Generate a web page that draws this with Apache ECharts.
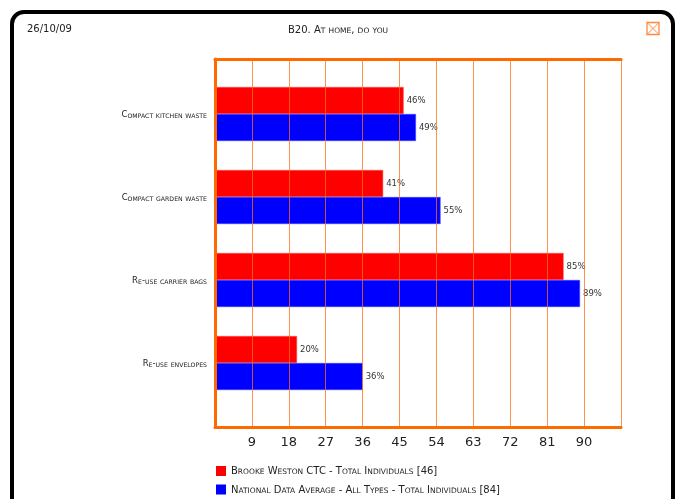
<!DOCTYPE html>
<html>
<head>
<meta charset="utf-8">
<script src="https://cdn.jsdelivr.net/npm/echarts@6/dist/echarts.min.js"></script>
<style>
html,body{margin:0;padding:0;background:#fff;}
#chart{width:676px;height:499px;}
</style>
</head>
<body>
<div id="chart"></div>
<script>
var categories = ['Compact kitchen waste', 'Compact garden waste', 'Re-use carrier bags', 'Re-use envelopes'];
var seriesNames = ['Brooke Weston CTC - Total Individuals [46]', 'National Data Average - All Types - Total Individuals [84]'];
var brookeValues = [46, 41, 85, 20];
var nationalValues = [49, 55, 89, 36];
var xTicks = [9, 18, 27, 36, 45, 54, 63, 72, 81, 90];
var titleText = 'B20. At home, do you';
var dateText = '26/10/09';

function sc(str, B, S) {
  var out = '', cur = null, buf = '';
  for (var i = 0; i < str.length; i++) {
    var ch = str[i];
    var isLower = ch !== ch.toUpperCase();
    var key = isLower ? S : B;
    if (key !== cur) {
      if (buf) out += '{' + cur + '|' + buf + '}';
      buf = ''; cur = key;
    }
    buf += isLower ? ch.toUpperCase() : ch;
  }
  if (buf) out += '{' + cur + '|' + buf + '}';
  return out;
}

var FONT = 'DejaVu Sans';
var TXT = '#222';
var ORANGE = '#ff6a00';

var chart = echarts.init(document.getElementById('chart'));
var option = {
  animation: false,
  backgroundColor: '#fff',
  title: {
    text: sc(titleText, 'b', 's'),
    left: 'center',
    top: 19,
    textStyle: {
      fontWeight: 'normal',
      rich: {
        b: {fontFamily: FONT, fontWeight: 'normal', fontSize: 10, color: TXT, verticalAlign: 'bottom', lineHeight: 11},
        s: {fontFamily: FONT, fontWeight: 'normal', fontSize: 7.5, color: TXT, verticalAlign: 'bottom', lineHeight: 11}
      }
    }
  },
  legend: {
    orient: 'vertical',
    left: 216,
    top: 466,
    padding: 0,
    itemWidth: 10,
    itemHeight: 10,
    itemGap: 8,
    icon: 'rect',
    itemStyle: {borderWidth: 0},
    data: seriesNames,
    formatter: function (n) { return sc(n, 'b', 's'); },
    textStyle: {
      rich: {
        b: {fontFamily: FONT, fontSize: 10, color: TXT, verticalAlign: 'bottom', lineHeight: 11},
        s: {fontFamily: FONT, fontSize: 7.5, color: TXT, verticalAlign: 'bottom', lineHeight: 11}
      }
    }
  },
  grid: [
    {left: 215, right: 55, top: 59, bottom: 72},
    {left: 215, right: 55, top: 72.5, bottom: 94.5}
  ],
  xAxis: [
    {
      type: 'value', gridIndex: 0, min: 0, max: 99, interval: 9, position: 'bottom', z: 5,
      axisLine: {show: true, onZero: false, lineStyle: {color: ORANGE, width: 3}},
      axisTick: {show: false},
      splitLine: {show: true, lineStyle: {color: 'rgba(255,110,20,0.75)', width: 1}},
      axisLabel: {
        margin: 9, fontFamily: FONT, fontSize: 13, color: TXT,
        formatter: function (v) { return xTicks.indexOf(v) >= 0 ? String(v) : ''; }
      }
    },
    {
      type: 'value', gridIndex: 0, min: 0, max: 99, interval: 9, position: 'top', z: 5,
      axisLine: {show: true, onZero: false, lineStyle: {color: ORANGE, width: 3}},
      axisTick: {show: false}, axisLabel: {show: false}, splitLine: {show: false}
    },
    {
      type: 'value', gridIndex: 1, min: 0, max: 99, show: false
    }
  ],
  yAxis: [
    {
      type: 'value', gridIndex: 0, min: 0, max: 1, z: 5,
      axisLine: {show: true, onZero: false, lineStyle: {color: ORANGE, width: 3}},
      axisTick: {show: false}, axisLabel: {show: false}, splitLine: {show: false}
    },
    {
      type: 'category', gridIndex: 1, data: categories, inverse: true,
      axisLine: {show: false}, axisTick: {show: false},
      axisLabel: {
        margin: 8,
        formatter: function (v) { return sc(v, 'b', 's'); },
        rich: {
          b: {fontFamily: FONT, fontSize: 8.5, color: TXT, verticalAlign: 'bottom', lineHeight: 10},
          s: {fontFamily: FONT, fontSize: 6.2, color: TXT, verticalAlign: 'bottom', lineHeight: 10}
        }
      }
    }
  ],
  series: [
    {
      name: seriesNames[0], type: 'bar', xAxisIndex: 2, yAxisIndex: 1,
      data: brookeValues, barWidth: 27, barGap: '0%',
      itemStyle: {color: '#ff0000', borderColor: '#ff5050', borderWidth: 0.5},
      label: {show: true, position: 'right', distance: 3, formatter: '{c}%', fontFamily: FONT, fontSize: 8.5, color: '#333'}
    },
    {
      name: seriesNames[1], type: 'bar', xAxisIndex: 2, yAxisIndex: 1,
      data: nationalValues, barWidth: 27, barGap: '0%',
      itemStyle: {color: '#0000ff', borderColor: '#4040ff', borderWidth: 0.5},
      label: {show: true, position: 'right', distance: 3, formatter: '{c}%', fontFamily: FONT, fontSize: 8.5, color: '#333'}
    }
  ],
  graphic: [
    {type: 'rect', z: 100, shape: {x: 12, y: 12, width: 661, height: 540, r: 12},
     style: {fill: 'none', stroke: '#000', lineWidth: 4}},
    {type: 'text', z: 100, left: 27, top: 24,
     style: {text: dateText, fontFamily: FONT, fontSize: 10, fill: TXT}},
    {type: 'rect', z: 100, shape: {x: 647, y: 22.5, width: 12, height: 12},
     style: {fill: 'none', stroke: '#ff8a3d', lineWidth: 1.3}},
    {type: 'line', z: 100, shape: {x1: 647, y1: 22.5, x2: 659, y2: 34.5},
     style: {stroke: '#ff8a3d', lineWidth: 1}},
    {type: 'line', z: 100, shape: {x1: 659, y1: 22.5, x2: 647, y2: 34.5},
     style: {stroke: '#ff8a3d', lineWidth: 1}}
  ]
};
chart.setOption(option);
</script>
</body>
</html>
